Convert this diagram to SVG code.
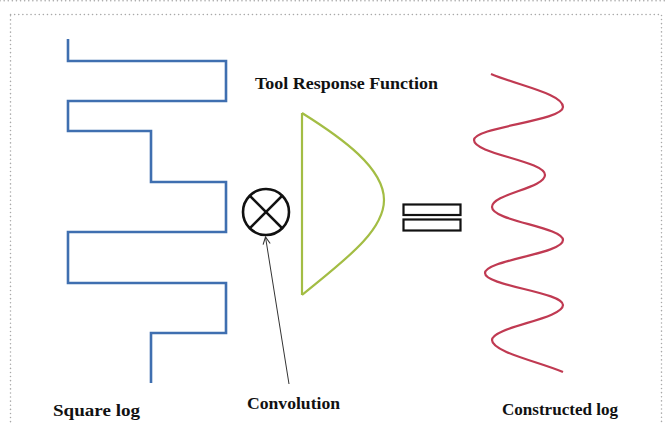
<svg xmlns="http://www.w3.org/2000/svg" width="667" height="423" viewBox="0 0 667 423">
  <defs>
    <style>
      .lbl { font-family: "Liberation Serif", "Times New Roman", serif; font-weight: bold; font-size: 16px; fill: #111; }
      .border { fill: none; stroke: #a8a8a8; stroke-width: 1.5; stroke-dasharray: 0.1 4; stroke-linecap: round; }
    </style>
    <marker id="arr" viewBox="0 0 10 10" refX="9" refY="5" markerWidth="9" markerHeight="9" orient="auto" markerUnits="userSpaceOnUse">
      <path d="M1,1 L9,5 L1,9" fill="none" stroke="#333" stroke-width="1.2"/>
    </marker>
  </defs>
  <rect width="667" height="423" fill="#ffffff"/>
  <line x1="0" y1="0.8" x2="667" y2="0.8" class="border" stroke="#d0d0d0"/>
  <rect x="10.5" y="14.5" width="651" height="430" class="border"/>

  <g id="square-log">
    <path d="M68,39 V61 H226 V101 H68 V131 H151 V182 H226 V232 H68 V283 H226 V333 H151 V383" fill="none" stroke="#3f6fb0" stroke-width="2.6"/>
    <text class="lbl" x="53" y="416" textLength="87" lengthAdjust="spacingAndGlyphs">Square log</text>
  </g>

  <g id="convolution">
    <circle cx="266" cy="212" r="23" fill="none" stroke="#111" stroke-width="2.6"/>
    <line x1="249.7" y1="195.7" x2="282.3" y2="228.3" stroke="#111" stroke-width="2.6"/>
    <line x1="282.3" y1="195.7" x2="249.7" y2="228.3" stroke="#111" stroke-width="2.6"/>
    <text class="lbl" x="247" y="409" textLength="93" lengthAdjust="spacingAndGlyphs">Convolution</text>
  </g>

  <g id="tool-response">
    <path d="M302,113 V295 M302,113 C342,138 384,168 384,200 C384,232 342,262 302,295" fill="none" stroke="#a3bd44" stroke-width="2.2"/>
    <text class="lbl" x="255" y="89" textLength="183" lengthAdjust="spacingAndGlyphs">Tool Response Function</text>
  </g>

  <g id="equals">
    <rect x="403.5" y="204.5" width="57" height="10.5" fill="none" stroke="#111" stroke-width="2.2"/>
    <rect x="403.5" y="219.5" width="57" height="11" fill="none" stroke="#111" stroke-width="2.2"/>
  </g>

  <g id="constructed-log">
    <path d="M491,74 C520,86 563,94 563,107 C563,121 474,127 474,140 C474,154 545,161 545,175 C545,188 492,194 492,207 C492,221 563,227 563,240 C563,254 485,260 485,273 C485,286 563,292 563,305 C563,319 492,327 492,340 C492,352 540,362 563,372" fill="none" stroke="#c03a52" stroke-width="2.2"/>
    <text class="lbl" x="502" y="415" textLength="116" lengthAdjust="spacingAndGlyphs">Constructed log</text>
  </g>

  <g id="connectors">
    <line x1="289" y1="384" x2="265.5" y2="237" stroke="#333" stroke-width="1" marker-end="url(#arr)"/>
  </g>
</svg>
